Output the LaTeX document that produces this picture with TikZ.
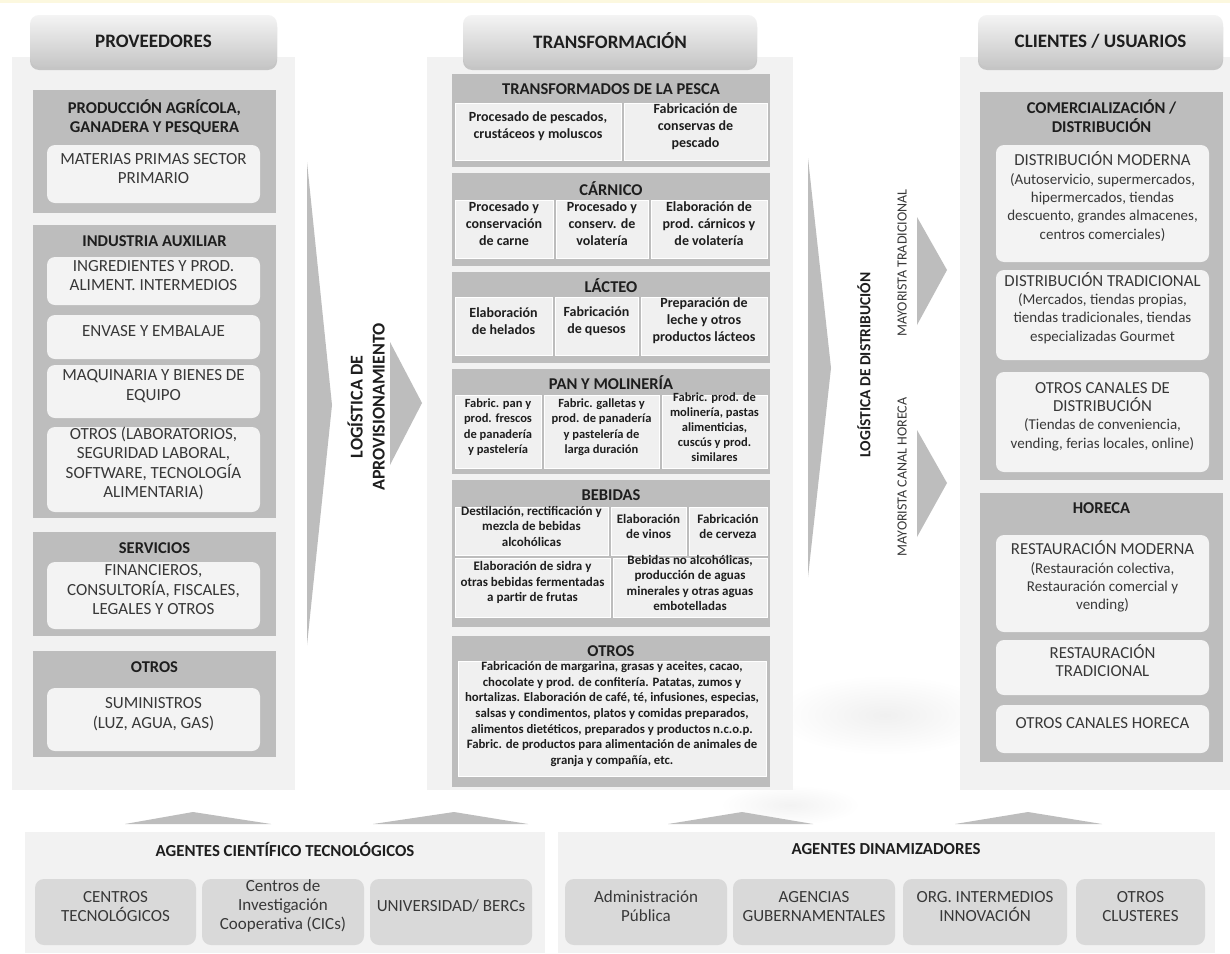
\documentclass[tikz,border=0pt]{standalone}
\usepackage{fontspec}
\setmainfont{Carlito}
\usetikzlibrary{shadows,fit}
\definecolor{panelgray}{HTML}{F2F2F2}
\definecolor{grpgray}{HTML}{BDBDBD}
\definecolor{boxgray}{HTML}{F3F3F3}
\definecolor{cellgray}{HTML}{F0F0F0}
\definecolor{botbox}{HTML}{D9D9D9}
\definecolor{arrgray}{HTML}{BDBDBD}
\definecolor{hdrtop}{HTML}{F4F4F4}
\definecolor{hdrbot}{HTML}{C6C6C6}
\definecolor{txtdark}{HTML}{1E1E1E}
\definecolor{txtreg}{HTML}{383838}
\definecolor{topline}{HTML}{FCF8DF}
\newcommand{\fs}[2]{\fontsize{#1}{#2}\selectfont}
\newcommand{\capl}[1]{{\fs{16.8}{18.3}#1}}
\tikzset{
  panel/.style={fill=panelgray, draw=none, inner sep=0pt},
  hdr/.style={rounded corners=9pt, top color=hdrtop, bottom color=hdrbot, draw=none, inner sep=0pt,
     drop shadow={shadow xshift=0pt, shadow yshift=-3pt, opacity=0.35, fill=black!55}},
  hdrtxt/.style={font=\fs{19}{22}\bfseries, text=txtdark},
  grp/.style={fill=grpgray, draw=none, inner sep=0pt},
  ibox/.style={fill=boxgray, rounded corners=8pt, draw=none, inner sep=0pt, align=center, text=txtreg, font=\fs{17}{19.5}},
  rbox/.style={ibox, font=\fs{15}{18.3}},
  cell/.style={fill=cellgray, draw=white, line width=0.7pt, inner sep=0pt, align=center, text=txtdark, font=\fs{14}{17}\bfseries},
  ttl/.style={font=\fs{16.5}{19}\bfseries, text=txtdark, align=center, inner sep=0pt},
  bttl/.style={font=\fs{16.8}{19}\bfseries, text=txtdark},
  bbox/.style={fill=botbox, rounded corners=9pt, draw=none, inner sep=0pt, align=center, text=txtreg, font=\fs{17}{19}},
  arr/.style={fill=arrgray, draw=none},
  vlab/.style={rotate=90, align=center, inner sep=0pt}
}
\begin{document}
\begin{tikzpicture}[x=1pt, y=-1pt]
\useasboundingbox (0,0) rectangle (1230,953);
\fill[white] (0,0) rectangle (1230,953);
\fill[topline] (0,0) rectangle (1230,3);
% faint smudges between columns
\shade[inner color=black!6, outer color=white] (885,715) ellipse [x radius=110, y radius=40];
\shade[inner color=black!5, outer color=white] (790,805) ellipse [x radius=70, y radius=20];

% ---------------- panels ----------------
\node[panel, fit={(12,57)(295,790)}] (pL) {};
\node[panel, fit={(427,57)(793,790)}] (pM) {};
\node[panel, fit={(960,57)(1230,790)}] (pR) {};

% headers
\node[hdr, fit={(30,15)(277,67)}] (hL) {};
\node[hdrtxt] (hLt) at (hL.center) {PROVEEDORES};
\node[hdr, fit={(463,15)(757,67)}] (hM) {};
\node[hdrtxt] (hMt) at (hM.center) {TRANSFORMACIÓN};
\node[hdr, fit={(978,15)(1223,67)}] (hR) {};
\node[hdrtxt] (hRt) at (hR.center) {CLIENTES / USUARIOS};

% ---------------- LEFT column ----------------
\node[grp, fit={(33,90)(276,213)}] (g1) {};
\node[ttl] (g1t) at (154.5,117.5) {PRODUCCIÓN AGRÍCOLA,\\GANADERA Y PESQUERA};
\node[ibox, fit={(47,145)(260,203)}] (b1) {MATERIAS PRIMAS SECTOR\\PRIMARIO};

\node[grp, fit={(33,225)(276,518)}] (g2) {};
\node[ttl] (g2t) at (154.5,241) {INDUSTRIA AUXILIAR};
\node[ibox, fit={(47,257)(260,305)}] (b2) {INGREDIENTES Y PROD.\\ALIMENT. INTERMEDIOS};
\node[ibox, fit={(47,315)(260,359)}] (b3) {ENVASE Y EMBALAJE};
\node[ibox, fit={(47,365)(260,418)}] (b4) {MAQUINARIA Y BIENES DE\\EQUIPO};
\node[ibox, fit={(47,427)(260,512)}] (b5) {OTROS (LABORATORIOS,\\SEGURIDAD LABORAL,\\SOFTWARE, TECNOLOGÍA\\ALIMENTARIA)};

\node[grp, fit={(33,532)(276,636)}] (g3) {};
\node[ttl] (g3t) at (154.5,548) {SERVICIOS};
\node[ibox, fit={(47,562)(260,629)}] (b6) {FINANCIEROS,\\CONSULTORÍA, FISCALES,\\LEGALES Y OTROS};

\node[grp, fit={(33,651)(276,757)}] (g4) {};
\node[ttl] (g4t) at (154.5,667) {OTROS};
\node[ibox, fit={(47,688)(260,751)}] (b7) {SUMINISTROS\\(LUZ, AGUA, GAS)};

% ---------------- arrow 1 ----------------
\fill[arr] (307,162) -- (332,405) -- (307,645) -- cycle;
\fill[arr] (390,342) -- (422,403) -- (390,465) -- cycle;
\node[vlab, font=\fs{18}{22}\bfseries, text=txtdark] (la1) at (366,407) {LOGÍSTICA DE\\APROVISIONAMIENTO};

% ---------------- MIDDLE column ----------------
\node[grp, fit={(452,74)(770,167)}] (m1) {};
\node[ttl] (m1t) at (611,89.5) {TRANSFORMADOS DE LA PESCA};
\node[cell, fit={(455,103)(621,160)}] (c11) {Procesado de pescados,\\crustáceos y moluscos};
\node[cell, fit={(624,103)(767,160)}] (c12) {Fabricación de\\conservas de\\pescado};

\node[grp, fit={(452,173)(770,266)}] (m2) {};
\node[ttl] (m2t) at (611,188.5) {CÁRNICO};
\node[cell, fit={(455,200)(553,258)}] (c21) {Procesado y\\conservación\\de carne};
\node[cell, fit={(556,200)(648,258)}] (c22) {Procesado y\\conserv. de\\volatería};
\node[cell, fit={(651,200)(767,258)}] (c23) {Elaboración de\\prod. cárnicos y\\de volatería};

\node[grp, fit={(452,272)(770,363)}] (m3) {};
\node[ttl] (m3t) at (611,285.5) {LÁCTEO};
\node[cell, fit={(455,297)(552,355)}] (c31) {Elaboración\\de helados};
\node[cell, fit={(555,297)(638,355)}] (c32) {Fabricación\\de quesos};
\node[cell, fit={(641,297)(767,355)}] (c33) {Preparación de\\leche y otros\\productos lácteos};

\node[grp, fit={(452,369)(770,474)}] (m4) {};
\node[ttl] (m4t) at (611,383) {PAN Y MOLINERÍA};
\node[cell, font=\fs{12.5}{15.5}\bfseries, fit={(455,395)(541,468)}] (c41) {Fabric. pan y\\prod. frescos\\de panadería\\y pastelería};
\node[cell, font=\fs{12.5}{15.5}\bfseries, fit={(544,395)(659,468)}] (c42) {Fabric. galletas y\\prod. de panadería\\y pastelería de\\larga duración};
\node[cell, font=\fs{12.5}{15}\bfseries, fit={(662,395)(767,468)}] (c43) {Fabric. prod. de\\molinería, pastas\\alimenticias,\\cuscús y prod.\\similares};

\node[grp, fit={(452,480)(770,627)}] (m5) {};
\node[ttl] (m5t) at (611,495) {BEBIDAS};
\node[cell, font=\fs{13}{15.8}\bfseries, fit={(455,507)(608,555)}] (c51) {Destilación, rectificación y\\mezcla de bebidas\\alcohólicas};
\node[cell, font=\fs{13}{15.8}\bfseries, fit={(611,507)(686,555)}] (c52) {Elaboración\\de vinos};
\node[cell, font=\fs{13}{15.8}\bfseries, fit={(689,507)(767,555)}] (c53) {Fabricación\\de cerveza};
\node[cell, font=\fs{13}{15.5}\bfseries, fit={(455,558)(610,617)}] (c54) {Elaboración de sidra y\\otras bebidas fermentadas\\a partir de frutas};
\node[cell, font=\fs{13}{15.2}\bfseries, fit={(613,558)(767,617)}] (c55) {Bebidas no alcohólicas,\\producción de aguas\\minerales y otras aguas\\embotelladas};

\node[grp, fit={(452,636)(770,787)}] (m6) {};
\node[ttl] (m6t) at (611,651) {OTROS};
\node[cell, font=\fs{12.8}{15.6}\bfseries, fit={(458,661)(766,776)}] (c61) {Fabricación de margarina, grasas y aceites, cacao,\\chocolate y prod. de confitería. Patatas, zumos y\\hortalizas. Elaboración de café, té, infusiones, especias,\\salsas y condimentos, platos y comidas preparados,\\alimentos dietéticos, preparados y productos n.c.o.p.\\Fabric. de productos para alimentación de animales de\\granja y compañía, etc.};

% ---------------- arrow 2 ----------------
\fill[arr] (808,158) -- (831,368) -- (808,577) -- cycle;
\fill[arr] (917,217) -- (947,270) -- (917,325) -- cycle;
\fill[arr] (917,430) -- (947,483) -- (917,537) -- cycle;
\node[vlab, font=\fs{15.5}{19}\bfseries, text=txtdark] (la2) at (864,365) {LOGÍSTICA DE DISTRIBUCIÓN};
\node[vlab, font=\fs{14}{17}, text=txtreg] (la3) at (902,263) {MAYORISTA TRADICIONAL};
\node[vlab, font=\fs{14}{17}, text=txtreg] (la4) at (902,477) {MAYORISTA CANAL HORECA};

% ---------------- RIGHT column ----------------
\node[grp, fit={(980,92)(1223,480)}] (r1) {};
\node[ttl] (r1t) at (1101.5,116.5) {COMERCIALIZACIÓN /\\DISTRIBUCIÓN};
\node[rbox, fit={(996,145)(1209,262)}] (d1) {\capl{DISTRIBUCIÓN MODERNA}\\(Autoservicio, supermercados,\\hipermercados, tiendas\\descuento, grandes almacenes,\\centros comerciales)};
\node[rbox, fit={(996,270)(1209,360)}] (d2) {\capl{DISTRIBUCIÓN TRADICIONAL}\\(Mercados, tiendas propias,\\tiendas tradicionales, tiendas\\especializadas Gourmet};
\node[rbox, fit={(996,372)(1209,472)}] (d3) {\capl{OTROS CANALES DE}\\\capl{DISTRIBUCIÓN}\\(Tiendas de conveniencia,\\vending, ferias locales, online)};

\node[grp, fit={(980,493)(1223,762)}] (r2) {};
\node[ttl] (r2t) at (1101.5,508) {HORECA};
\node[rbox, fit={(996,535)(1209,632)}] (h1) {\capl{RESTAURACIÓN MODERNA}\\(Restauración colectiva,\\Restauración comercial y\\vending)};
\node[rbox, fit={(996,640)(1209,695)}] (h2) {\capl{RESTAURACIÓN}\\\capl{TRADICIONAL}};
\node[rbox, fit={(996,705)(1209,753)}] (h3) {\capl{OTROS CANALES HORECA}};

% ---------------- bottom arrows ----------------
\fill[arr] (125,824) -- (193,812) -- (271,824) -- cycle;
\fill[arr] (373,824) -- (454,812) -- (528,824) -- cycle;
\fill[arr] (668,824) -- (742,812) -- (813,824) -- cycle;
\fill[arr] (955,824) -- (1028,812) -- (1102,824) -- cycle;

% ---------------- bottom panels ----------------
\node[panel, fit={(25,832)(545,953)}] (bL) {};
\node[bttl] (bLt) at (285,849) {AGENTES CIENTÍFICO TECNOLÓGICOS};
\node[bbox, fit={(35,879)(196,945)}] (e1) {CENTROS\\TECNOLÓGICOS};
\node[bbox, fit={(202,879)(364,945)}] (e2) {Centros de\\Investigación\\Cooperativa (CICs)};
\node[bbox, fit={(370,879)(532,945)}] (e3) {UNIVERSIDAD/ BERCs};

\node[panel, fit={(558,832)(1215,953)}] (bR) {};
\node[bttl] (bRt) at (886,849) {AGENTES DINAMIZADORES};
\node[bbox, fit={(565,879)(727,945)}] (f1) {Administración\\Pública};
\node[bbox, fit={(733,879)(895,945)}] (f2) {AGENCIAS\\GUBERNAMENTALES};
\node[bbox, fit={(903,879)(1067,945)}] (f3) {ORG. INTERMEDIOS\\INNOVACIÓN};
\node[bbox, fit={(1076,879)(1205,945)}] (f4) {OTROS\\CLUSTERES};
\end{tikzpicture}
\end{document}
